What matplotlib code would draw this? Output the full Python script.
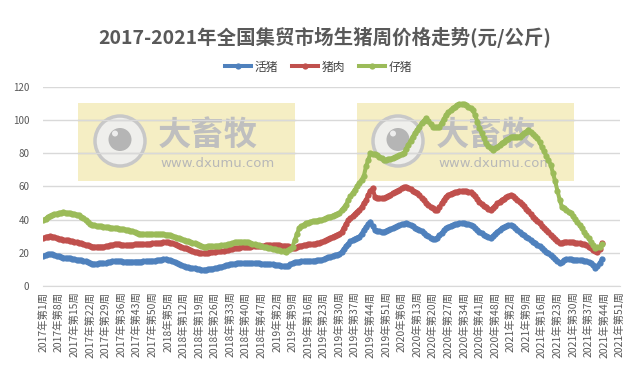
import matplotlib
matplotlib.use('Agg')
import matplotlib.pyplot as plt
from matplotlib.patches import Rectangle, Circle

plt.rcParams['font.family'] = ['Noto Sans CJK SC', 'DejaVu Sans']

# weekly categories, 2017 week 1 .. 2021 week 51
years = [2017, 2018, 2019, 2020, 2021]
weeks_in_year = [52, 52, 52, 53, 51]
categories = [f'{y}年第{w}周' for y, n in zip(years, weeks_in_year) for w in range(1, n + 1)]

# 活猪 (yuan/kg), one value per week
live_pig = [
    18.0, 18.5, 19.0, 19.3, 19.0, 18.6, 18.2, 17.8, 17.3, 17.1,
    17.0, 16.8, 16.6, 16.4, 16.1, 15.9, 15.7, 15.5, 15.1, 14.8,
    14.4, 13.9, 13.5, 13.4, 13.5, 13.6, 13.7, 13.7, 13.8, 14.2,
    14.5, 14.8, 15.0, 15.0, 14.9, 14.8, 14.7, 14.7, 14.7, 14.6,
    14.6, 14.7, 14.7, 14.7, 14.7, 14.8, 14.9, 15.0, 15.1, 15.2,
    15.3, 15.5, 15.7, 15.9, 16.0, 16.0, 15.8, 15.5, 15.1, 14.7,
    14.0, 13.3, 12.6, 12.0, 11.6, 11.3, 11.0, 10.8, 10.6, 10.4,
    10.1, 9.9, 9.8, 9.9, 10.1, 10.3, 10.5, 10.6, 10.9, 11.2,
    11.6, 12.0, 12.4, 12.8, 13.1, 13.3, 13.5, 13.6, 13.6, 13.7,
    13.7, 13.7, 13.7, 13.7, 13.7, 13.7, 13.7, 13.6, 13.5, 13.4,
    13.3, 13.3, 13.2, 13.1, 12.9, 12.7, 12.5, 12.3, 12.1, 12.0,
    12.3, 13.0, 13.8, 14.3, 14.5, 14.6, 14.8, 14.9, 15.0, 15.1,
    15.1, 15.2, 15.3, 15.4, 15.5, 15.8, 16.2, 16.7, 17.2, 17.7,
    18.2, 18.6, 18.9, 19.0, 20.5, 22.3, 24.0, 25.5, 26.8, 27.8,
    28.6, 29.2, 29.7, 31.5, 33.5, 35.5, 37.2, 38.7, 36.0, 33.7,
    33.2, 32.9, 32.7, 32.7, 33.2, 33.8, 34.3, 34.8, 35.3, 35.9,
    36.5, 37.1, 37.5, 37.7, 37.5, 36.8, 35.9, 35.1, 34.4, 33.7,
    33.0, 32.0, 31.0, 30.0, 29.1, 28.5, 28.1, 29.2, 30.6, 32.0,
    33.5, 34.8, 35.6, 36.3, 36.8, 37.2, 37.5, 37.7, 37.8, 37.7,
    37.5, 37.3, 37.0, 36.2, 35.0, 33.8, 32.7, 31.8, 31.0, 30.2,
    29.6, 29.1, 30.0, 31.4, 32.7, 33.8, 34.8, 35.5, 36.1, 36.5,
    36.7, 36.2, 35.0, 33.8, 32.7, 31.6, 30.6, 29.7, 28.8, 27.8,
    26.7, 25.8, 24.8, 23.8, 22.7, 21.7, 20.7, 19.6, 18.4, 17.2,
    16.0, 14.8, 13.7, 14.5, 15.5, 16.0, 16.1, 16.0, 15.9, 15.8,
    15.8, 15.7, 15.5, 15.2, 14.8, 14.2, 13.7, 12.4, 11.0, 11.8,
    13.8, 16.1,
]

# 猪肉
pork = [
    28.7, 29.3, 29.8, 30.1, 29.8, 29.4, 29.0, 28.5, 28.1, 27.9,
    27.7, 27.5, 27.2, 27.0, 26.7, 26.4, 26.1, 25.8, 25.3, 24.9,
    24.4, 24.0, 23.7, 23.7, 23.7, 23.7, 23.7, 23.7, 23.9, 24.2,
    24.5, 24.8, 25.0, 25.1, 25.0, 24.9, 24.8, 24.7, 24.7, 24.8,
    24.9, 25.0, 25.0, 25.1, 25.1, 25.2, 25.3, 25.4, 25.5, 25.6,
    25.7, 25.8, 25.9, 26.1, 26.2, 26.3, 26.2, 26.0, 25.7, 25.3,
    24.8, 24.2, 23.6, 23.1, 22.7, 22.2, 21.7, 21.2, 20.7, 20.4,
    20.1, 19.9, 19.7, 19.8, 20.0, 20.2, 20.5, 20.7, 20.8, 20.9,
    21.0, 21.1, 21.4, 21.7, 22.0, 22.4, 22.7, 22.9, 23.0, 23.2,
    23.3, 23.5, 23.6, 23.7, 23.8, 23.9, 24.0, 24.1, 24.2, 24.3,
    24.5, 24.6, 24.7, 24.7, 24.6, 24.5, 24.4, 24.3, 24.3, 24.1,
    23.8, 23.4, 23.0, 22.7, 23.2, 23.8, 24.3, 24.7, 24.8, 25.0,
    25.1, 25.2, 25.4, 25.6, 25.7, 26.2, 26.8, 27.5, 28.2, 29.0,
    29.7, 30.3, 30.9, 31.5, 32.5, 35.0, 37.5, 39.5, 40.8, 42.0,
    43.5, 44.8, 45.8, 47.5, 49.8, 51.8, 55.0, 57.5, 58.8, 53.8,
    53.0, 52.8, 52.8, 52.8, 53.5, 54.3, 55.0, 55.8, 56.5, 57.3,
    58.0, 58.8, 59.4, 59.8, 59.2, 58.3, 57.5, 56.6, 55.8, 54.5,
    53.0, 51.5, 50.0, 48.8, 47.8, 46.8, 46.0, 45.8, 47.5, 49.8,
    52.0, 53.8, 54.8, 55.5, 56.0, 56.4, 56.8, 56.9, 56.9, 56.9,
    56.9, 56.8, 56.5, 55.5, 54.0, 52.5, 50.8, 49.5, 48.4, 47.4,
    46.5, 45.8, 47.0, 48.3, 49.7, 50.8, 51.8, 52.6, 53.4, 54.1,
    54.8, 54.0, 52.8, 51.8, 50.8, 49.4, 47.9, 46.4, 44.9, 43.3,
    41.8, 40.4, 39.0, 37.7, 36.4, 35.0, 33.7, 32.4, 31.0, 29.5,
    28.0, 26.8, 25.7, 26.1, 26.5, 26.7, 26.6, 26.4, 26.2, 26.0,
    25.8, 25.7, 25.4, 25.0, 24.4, 23.5, 22.7, 21.9, 21.2, 20.7,
    22.5, 25.7,
]

# 仔猪
piglet = [
    39.5, 40.5, 41.5, 42.2, 42.8, 43.2, 43.6, 43.9, 44.2, 44.4,
    44.2, 43.9, 43.7, 43.6, 43.4, 43.0, 42.5, 41.8, 41.0, 39.8,
    38.5, 37.4, 36.7, 36.5, 36.2, 36.0, 35.9, 35.8, 35.6, 35.4,
    35.2, 35.0, 34.9, 34.7, 34.5, 34.3, 34.1, 33.9, 33.7, 33.3,
    32.9, 32.5, 32.0, 31.6, 31.3, 31.2, 31.1, 31.1, 31.1, 31.1,
    31.1, 31.1, 31.1, 31.1, 31.1, 31.0, 30.9, 30.5, 30.1, 29.7,
    29.2, 28.7, 28.2, 27.7, 27.3, 26.9, 26.5, 26.1, 25.7, 25.2,
    24.7, 24.2, 23.7, 23.7, 23.8, 23.9, 24.0, 24.1, 24.2, 24.3,
    24.4, 24.6, 24.7, 25.1, 25.5, 25.9, 26.3, 26.4, 26.5, 26.6,
    26.7, 26.5, 26.2, 25.9, 25.5, 25.1, 24.7, 24.4, 24.0, 23.7,
    23.4, 23.0, 22.7, 22.4, 22.1, 21.8, 21.5, 21.2, 20.9, 20.7,
    21.5, 22.5, 23.7, 27.5, 31.5, 34.8, 36.0, 37.0, 37.7, 38.2,
    38.7, 39.0, 39.2, 39.4, 39.6, 39.8, 40.3, 40.8, 41.3, 41.8,
    42.4, 43.0, 43.5, 44.0, 45.5, 47.2, 49.0, 51.5, 54.0, 56.0,
    58.0, 60.0, 62.0, 64.0, 66.0, 72.0, 76.0, 79.9, 79.5, 79.2,
    78.9, 77.8, 76.8, 75.9, 76.0, 76.3, 76.6, 77.0, 77.5, 78.1,
    78.8, 79.4, 80.0, 82.5, 85.0, 87.5, 89.9, 92.0, 94.0, 96.0,
    98.0, 99.5, 101.0, 99.3, 97.6, 96.0, 95.5, 95.7, 96.0, 98.2,
    100.5, 103.0, 104.5, 105.8, 107.0, 108.0, 109.0, 109.3, 109.4, 109.3,
    109.0, 108.0, 107.0, 106.0, 103.0, 99.0, 95.0, 92.0, 89.0, 86.0,
    84.3, 82.8, 82.0, 82.8, 83.8, 84.8, 86.0, 87.0, 88.0, 88.8,
    89.5, 90.0, 90.0, 90.0, 90.0, 91.0, 92.0, 93.0, 94.0, 93.0,
    91.7, 90.3, 89.0, 86.5, 83.8, 81.0, 78.3, 75.6, 73.0, 68.0,
    63.0, 57.5, 52.0, 47.8, 46.8, 45.8, 44.8, 43.8, 42.0, 40.2,
    38.4, 36.7, 34.7, 32.7, 30.7, 28.7, 26.7, 24.7, 22.7, 23.2,
    23.7, 25.0,
]

series = [('活猪', live_pig, '#4F81BD'), ('猪肉', pork, '#C0504D'), ('仔猪', piglet, '#9BBB59')]

W, H = 637, 374
fig = plt.figure(figsize=(W / 100, H / 100), dpi=100)

# watermark layer, drawn in pixel coordinates
wm = fig.add_axes([0, 0, 1, 1], zorder=0)
wm.set_xlim(0, W)
wm.set_ylim(H, 0)
wm.axis('off')
for bx, cx, tx in [(78, 120, 160), (357, 398, 438)]:
    wm.add_patch(Rectangle((bx, 103), 217, 78, color='#F5EEC4', lw=0))
    wm.add_patch(Circle((cx, 141), 25, facecolor='#EFEFEC', edgecolor='#C8C8C8', lw=2.5))
    wm.add_patch(Circle((cx, 139.5), 11.5, color='#B5B5B5', lw=0))
    wm.add_patch(Circle((cx - 5, 133.5), 3, color='#EDEDED', lw=0))
    wm.text(tx - 2, 135, '大畜牧', fontsize=24, fontweight='bold', color='#BFBFBF', va='center', ha='left')
    wm.text(tx, 163, 'www.dxumu.com', fontsize=9.5, color='#B8B8B8', va='center', ha='left',
            family='DejaVu Sans')
    # gridlines show darker through the watermark box
    for gy in (120, 153):
        wm.plot([bx, bx + 217], [gy, gy], color='#BDBDBD', lw=0.9)

ax = fig.add_axes([43.3 / W, 1 - 286 / H, (619.7 - 43.3) / W, (286 - 86.7) / H], zorder=1)
ax.patch.set_alpha(0)

x = list(range(len(live_pig)))
for name, vals, color in series:
    ax.plot(x, vals, color=color, lw=2.9, marker='o', ms=4.5, mew=0, label=name, zorder=3)

ax.set_xlim(0, len(categories) - 1)
ax.set_ylim(0, 120)
ax.set_yticks(range(0, 121, 20))
ax.grid(axis='y', color='#D9D9D9', lw=1)
ax.set_axisbelow(True)
for s in ['top', 'right', 'left']:
    ax.spines[s].set_visible(False)
ax.spines['bottom'].set_color('#D9D9D9')
ax.tick_params(axis='y', length=0, labelsize=7, labelcolor='#595959', pad=10)

tick_pos = list(range(0, len(categories), 7))
ax.set_xticks(tick_pos)
ax.set_xticklabels([categories[i] for i in tick_pos], rotation=90, fontsize=7.5, color='#595959')
ax.tick_params(axis='x', length=0, pad=4)

fig.suptitle('2017-2021年全国集贸市场生猪周价格走势(元/公斤)', x=0.51, y=1 - 37 / H, va='center',
             fontsize=14, fontweight='bold', color='#595959')
fig.legend(loc='center', bbox_to_anchor=(0.5, 1 - 67 / H), ncol=3, frameon=False, fontsize=8.5,
           handlelength=2.2, handletextpad=0.3, columnspacing=1.2, labelcolor='#404040')

fig.savefig('out.png', dpi=100)
